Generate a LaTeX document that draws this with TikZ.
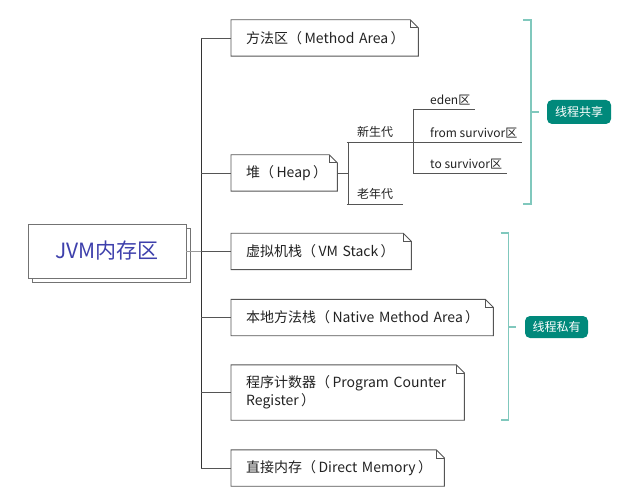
\documentclass[tikz,border=0pt]{standalone}
\usepackage{fontspec}
\setmainfont{Noto Sans CJK SC}
\usepackage{xcolor}
\usetikzlibrary{positioning, calc}
\definecolor{jvmblue}{RGB}{62,64,172}
\definecolor{jvmline}{RGB}{85,85,85}
\definecolor{jvmtext}{RGB}{34,34,34}
\definecolor{tealdark}{RGB}{0,137,123}
\definecolor{teallight}{RGB}{128,200,189}

\begin{document}
\begin{tikzpicture}[x=1pt, y=-1pt,
    every node/.style={font=\fontsize{14}{18}\selectfont, text=jvmtext},
    memnode/.style={anchor=west, inner xsep=15pt, inner ysep=0pt, minimum height=36pt, align=left},
    leaf/.style={font=\fontsize{12}{14}\selectfont, inner xsep=2pt, inner ysep=4pt},
    tline/.style={draw=jvmline, line width=0.9pt},
    brk/.style={draw=teallight, line width=1.4pt},
    tag/.style={fill=tealdark, rounded corners=5pt, font=\fontsize{12}{14}\selectfont, text=white, inner sep=0pt}]
  \useasboundingbox (0,0) rectangle (631,502);

  % root with its shadow card
  \draw[draw=black!55, fill=white, line width=0.9pt] (32,228) rectangle (190,282);
  \node[draw=black!55, fill=white, line width=0.9pt, minimum width=158pt, minimum height=54pt,
        font=\fontsize{21}{25}\selectfont, text=jvmblue] (jvm) at (107,251) {JVM内存区};

  % memory areas
  \node[memnode, text width=157pt] (method) at (231,38) {\mbox{方法区（\,Method Area\,）}};
  \node[memnode, text width=76pt] (heap) at (231,173) {\mbox{堆（\,Heap\,）}};
  \node[memnode, text width=150pt] (vmstack) at (231,251.5) {\mbox{虚拟机栈（\,VM Stack\,）}};
  \node[memnode, text width=232pt] (native) at (231,317.5) {\mbox{本地方法栈（\,Native Method Area\,）}};
  \node[memnode, text width=203pt, minimum height=55pt] (pc) at (231,392.5) {\mbox{程序计数器（\,Program Counter}\\\mbox{Register\,）}};
  \node[memnode, text width=183pt] (direct) at (231,468) {\mbox{直接内存（\,Direct Memory\,）}};

  % boxes with a folded corner
  \foreach \n in {method,heap,vmstack,native,pc,direct}{
    \draw[tline] (\n.south west) |- ($(\n.north east)+(-8,0)$) -- ($(\n.north east)+(0,8)$) |- cycle;
    \draw[tline, line width=0.6pt] ($(\n.north east)+(-8,0)$) |- ($(\n.north east)+(0,8)$);
  }

  % trunk
  \coordinate (trunk) at (201,0);
  \draw[tline, draw=black!40] (jvm.east) -- (jvm.east -| trunk);
  \draw[tline, draw=black!80] (trunk |- method.west) -- (trunk |- direct.west);
  \foreach \n in {method,heap,vmstack,native,pc,direct}
    \draw[tline] (trunk |- \n.west) -- (\n.west);

  % heap generations
  \coordinate (hj) at (348,0);
  \coordinate (hv) at (413,0);
  \node[leaf, anchor=south, minimum width=56pt] (young) at (375,142) {新生代};
  \node[leaf, anchor=south, minimum width=56pt] (old) at (375,204) {老年代};
  \node[leaf, anchor=south west] (eden) at (428,109) {eden区};
  \node[leaf, anchor=south west] (fromsv) at (428,142) {from survivor区};
  \node[leaf, anchor=south west] (tosv) at (428,173) {to survivor区};

  \draw[tline] (heap.east) -- (heap.east -| hj);
  \draw[tline] (hj |- young.south) -- (hj |- old.south);
  \draw[tline] (young.south west) -- (hv |- young.south);
  \draw[tline] (old.south west) -- (old.south east);
  \draw[tline] (hv |- eden.south) -- (hv |- tosv.south);
  \foreach \n in {eden,fromsv,tosv}
    \draw[tline] (hv |- \n.south) -- ([xshift=3pt]\n.south east);

  % thread scopes
  \node[tag, minimum width=64pt, minimum height=24pt] (shared) at (579,112) {线程共享};
  \node[tag, minimum width=63pt, minimum height=22pt] (private) at (556.5,327) {线程私有};
  \coordinate (b1t) at (531,20);
  \coordinate (b1b) at (531,204);
  \coordinate (b2t) at (508.5,233);
  \coordinate (b2b) at (508.5,420);
  \draw[brk] ([xshift=-8pt]b1t) -- (b1t) -- (b1b) -- ([xshift=-8pt]b1b);
  \draw[brk] (b1t |- shared) -- ([xshift=-8pt]shared.west);
  \draw[brk] ([xshift=-8pt]b2t) -- (b2t) -- (b2b) -- ([xshift=-8pt]b2b);
  \draw[brk] (b2t |- private) -- ([xshift=-9pt]private.west);
\end{tikzpicture}
\end{document}
